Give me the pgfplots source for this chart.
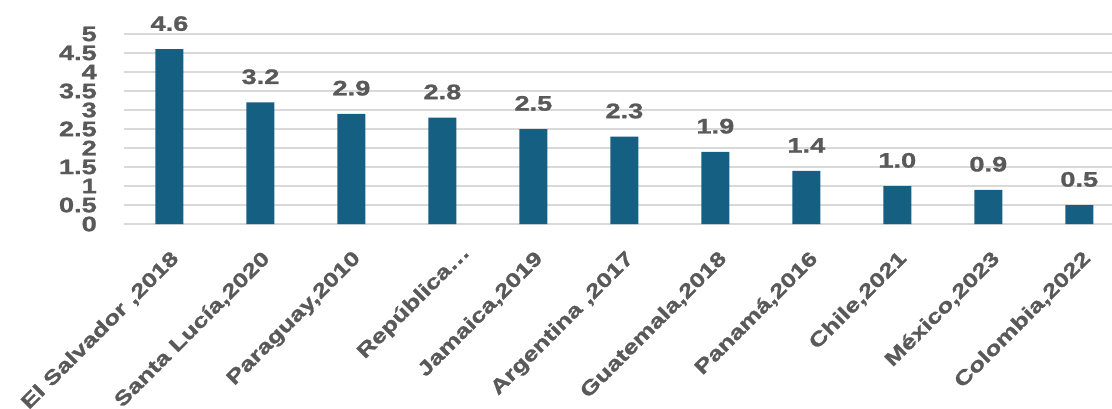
\documentclass[border=0pt]{standalone}
\usepackage{fontspec}
\setmainfont{Liberation Sans}[FakeStretch=1.3, BoldFeatures={FakeBold=1.2}]
\usepackage{pgfplots}
\pgfplotsset{compat=1.18}
\definecolor{barc}{HTML}{156082}
\definecolor{txt}{HTML}{595959}
\definecolor{gridc}{HTML}{D9D9D9}
\def\xsh{{0,0,0,18,0,0,2,2,0,2,2}}
\def\ysh{{-25,-25,-25,-19,-25,-25,-25,-25,-25,-25,-25}}
\begin{document}
\begin{tikzpicture}[x=1bp,y=1bp]
\begin{axis}[
  at={(0,0)}, anchor=south west,
  scale only axis,
  width=988bp, height=190bp,
  xmin=-0.5, xmax=10.36,
  ymin=0, ymax=5,
  ytick={0,0.5,...,5},
  yticklabels={0,0.5,1,1.5,2,2.5,3,3.5,4,4.5,5},
  xtick={0,...,10},
  xticklabels={{El Salvador ,2018},{Santa Lucía,2020},{Paraguay,2010},{República…},{Jamaica,2019},{Argentina ,2017},{Guatemala,2018},{Panamá,2016},{Chile,2021},{México,2023},{Colombia,2022}},
  ymajorgrids, major grid style={gridc, line width=1.5bp},
  axis line style={draw=none},
  major tick length=0pt,
  /pgf/number format/assume math mode=true,
  tick label style={font=\bfseries\fontsize{21}{21}\selectfont, text=txt},
  yticklabel style={anchor=east, inner sep=0pt, xshift=-27bp},
  xticklabel style={font=\bfseries\fontsize{20}{20}\selectfont, xshift={\xsh[\ticknum]*1bp}, yshift={\ysh[\ticknum]*1bp}, rotate=45, anchor=north east, inner sep=0pt},
  clip=false,
]
\addplot[ybar, bar width=28bp, fill=barc, draw=none,
  nodes near coords={\pgfmathprintnumber[fixed,fixed zerofill,precision=1,assume math mode=true]{\pgfplotspointmeta}},
  nodes near coords style={font=\bfseries\fontsize{21}{21}\selectfont, text=txt, anchor=south, inner sep=0pt, yshift=18bp},
] coordinates {(0,4.6) (1,3.2) (2,2.9) (3,2.8) (4,2.5) (5,2.3) (6,1.9) (7,1.4) (8,1.0) (9,0.9) (10,0.5)};
\end{axis}
\pgfresetboundingbox
\useasboundingbox (-124bp,-185bp) rectangle (988bp,224bp);
\end{tikzpicture}
\end{document}
